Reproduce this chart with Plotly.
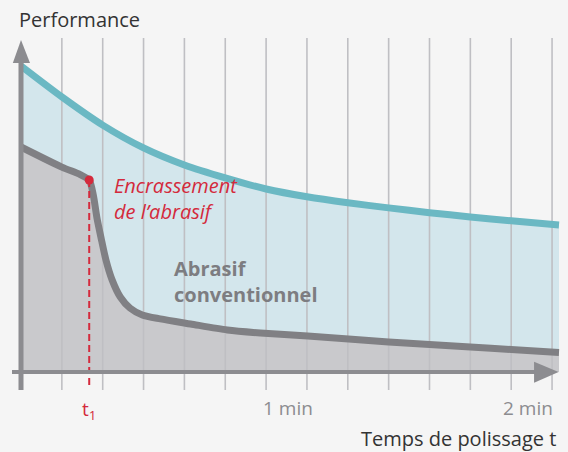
import plotly.graph_objects as go

# ---------------- data ----------------
grid_t = [10, 20, 30, 40, 50, 60, 70, 80, 90, 100, 110, 120, 130]

teal_t = [0, 10, 20, 30, 40, 50, 60, 70, 80, 90, 100, 110, 120, 131.7]
teal_perf = [102, 91.7, 82.3, 74.7, 69, 64.7, 61, 58.4, 56.4, 54.7, 53.1, 51.7, 50.4, 49]

gray_t = [0, 10, 14.5, 16.7, 17.7, 18.6, 19.6, 20.8, 22.3, 24.3, 26.7, 29.7, 34.1,
          41.5, 50.5, 58.6, 70.2, 80.2, 90, 100, 110, 120, 131.7]
gray_perf = [75, 68.3, 65.8, 64, 59, 51.3, 44.7, 37.3, 30.7, 25, 21.3, 19, 17.7,
             16, 14, 13, 12, 11, 10, 9.2, 8.3, 7.5, 6.5]

t1 = 16.7
t1_perf = 64
tick_labels = ["1 min", "2 min"]
tick_label_t = [58.8, 130.6]

# ---------------- styling ----------------
W, H = 568, 452
X0PX, SX = 21, 4.085
Y0PX, SY = 372, 3.0
xr = [-X0PX / SX, (W - X0PX) / SX]
yr = [-(H - Y0PX) / SY, Y0PX / SY]

BG = "#f5f5f5"
TEAL = "#6bb8c3"
BLUE_FILL = "#d3e6ec"
GRAY_LINE = "#808084"
GRAY_FILL = "#c9c9cc"
AXIS = "#8c8c90"
GRID = "#bfbfc3"
RED = "#d42a3c"
FONT = "Open Sans"

fig = go.Figure()

# fills
fig.add_trace(go.Scatter(x=gray_t, y=gray_perf, mode="lines", line=dict(width=0, shape="spline", smoothing=0.7),
                         fill="tozeroy", fillcolor=GRAY_FILL, hoverinfo="skip", showlegend=False))
fig.add_trace(go.Scatter(x=teal_t, y=teal_perf, mode="lines", line=dict(width=0, shape="spline", smoothing=0.7),
                         fill="tonexty", fillcolor=BLUE_FILL, hoverinfo="skip", showlegend=False))

# vertical gridlines
gx, gy = [], []
for t in grid_t:
    gx += [t, t, None]
    gy += [-6, 111.3, None]
fig.add_trace(go.Scatter(x=gx, y=gy, mode="lines", line=dict(color=GRID, width=1.6),
                         hoverinfo="skip", showlegend=False))

# curves
fig.add_trace(go.Scatter(x=teal_t, y=teal_perf, mode="lines",
                         line=dict(color=TEAL, width=7, shape="spline", smoothing=0.7),
                         hoverinfo="skip", showlegend=False))
fig.add_trace(go.Scatter(x=gray_t, y=gray_perf, mode="lines",
                         line=dict(color=GRAY_LINE, width=7, shape="spline", smoothing=0.7),
                         hoverinfo="skip", showlegend=False))

# t1 dashed line and dot
fig.add_trace(go.Scatter(x=[t1, t1], y=[t1_perf, -5.5], mode="lines",
                         line=dict(color=RED, width=2, dash="7px,4px"),
                         hoverinfo="skip", showlegend=False))
fig.add_trace(go.Scatter(x=[t1], y=[t1_perf], mode="markers",
                         marker=dict(color=RED, size=9), hoverinfo="skip", showlegend=False))

# axes with arrows
shapes = [
    dict(type="line", x0=0, x1=0, y0=-6, y1=103, line=dict(color=AXIS, width=5), layer="above"),
    dict(type="path", path=f"M {-2.0},{103} L {2.2},{103} L 0,{110.7} Z",
         fillcolor=AXIS, line=dict(width=0), layer="above"),
    dict(type="line", x0=-2.2, x1=126, y0=0, y1=0, line=dict(color=AXIS, width=4), layer="above"),
    dict(type="path", path=f"M 125.6,3.4 L 125.6,-3.6 L 131.6,0 Z",
         fillcolor=AXIS, line=dict(width=0), layer="above"),
]

annotations = [
    dict(text="Performance", x=17 / W, y=1 - 20 / H, xref="paper", yref="paper",
         xanchor="left", yanchor="middle", showarrow=False,
         font=dict(family=FONT, size=20, color="#333333")),
    dict(text="Temps de polissage t", x=558 / W, y=1 - 438 / H, xref="paper", yref="paper",
         xanchor="right", yanchor="middle", showarrow=False,
         font=dict(family=FONT, size=20, color="#333333")),
    dict(text="Encrassement<br>de l’abrasif", x=112 / W, y=1 - 198 / H, xref="paper", yref="paper",
         xanchor="left", yanchor="middle", align="left", showarrow=False,
         font=dict(family=FONT, size=20, color=RED, style="italic")),
    dict(text="<b>Abrasif<br>conventionnel</b>", x=172 / W, y=1 - 281 / H, xref="paper", yref="paper",
         xanchor="left", yanchor="middle", align="left", showarrow=False,
         font=dict(family=FONT, size=20, color="#7d7d81")),
    dict(text="t<sub>1</sub>", x=t1, y=(Y0PX - 410) / SY, xref="x", yref="y",
         xanchor="center", yanchor="middle", showarrow=False,
         font=dict(family=FONT, size=19, color=RED)),
]
for lab, t, anc in zip(tick_labels, tick_label_t, ["left", "right"]):
    annotations.append(dict(text=lab, x=t, y=(Y0PX - 408) / SY, xref="x", yref="y",
                            xanchor=anc, yanchor="middle", showarrow=False,
                            font=dict(family=FONT, size=19, color="#8c8c90")))

fig.update_layout(
    width=W, height=H, margin=dict(l=0, r=0, t=0, b=0),
    paper_bgcolor=BG, plot_bgcolor=BG,
    xaxis=dict(range=xr, visible=False, fixedrange=True),
    yaxis=dict(range=yr, visible=False, fixedrange=True),
    shapes=shapes, annotations=annotations, showlegend=False,
)

fig.write_html(
    "out.html",
    config={"displayModeBar": False},
    post_script="document.body.style.margin='0';document.body.style.overflow='hidden';",
)
